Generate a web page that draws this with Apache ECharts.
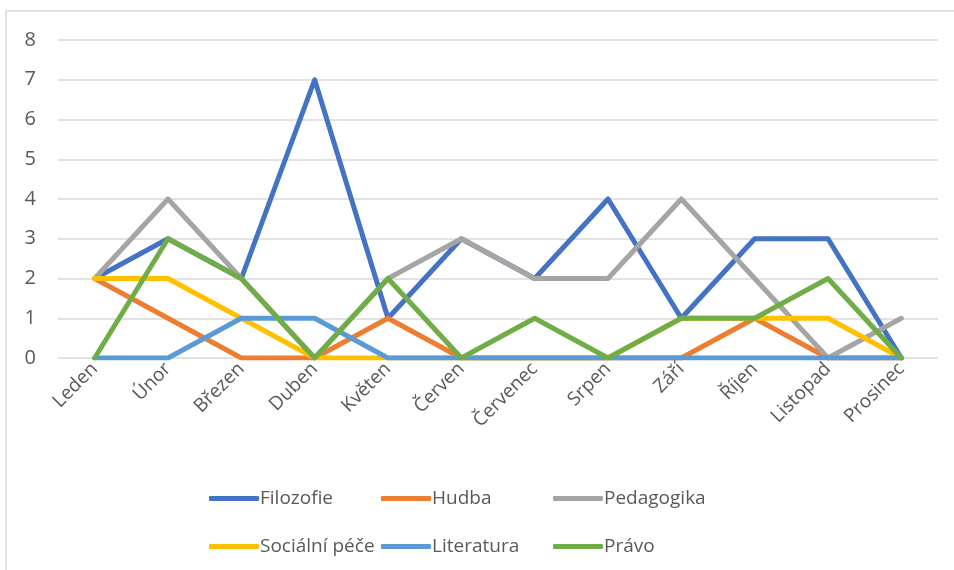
<!DOCTYPE html>
<html>
<head>
<meta charset="utf-8">
<script src="https://cdn.jsdelivr.net/npm/echarts@6/dist/echarts.min.js"></script>
<style>
  html, body { margin: 0; padding: 0; background: #fff; }
  #chart { width: 954px; height: 570px; }
</style>
</head>
<body>
<div id="chart"></div>
<script>
// categories (months)
const months = ['Leden', 'Únor', 'Březen', 'Duben', 'Květen', 'Červen', 'Červenec', 'Srpen', 'Září', 'Říjen', 'Listopad', 'Prosinec']

// series values
const filozofie = [2, 3, 2, 7, 1, 3, 2, 4, 1, 3, 3, 0]
const hudba = [2, 1, 0, 0, 1, 0, 0, 0, 0, 1, 0, 0]
const pedagogika = [2, 4, 2, 0, 2, 3, 2, 2, 4, 2, 0, 1]
const socialniPece = [2, 2, 1, 0, 0, 0, 0, 0, 1, 1, 1, 0]
const literatura = [0, 0, 1, 1, 0, 0, 0, 0, 0, 0, 0, 0]
const pravo = [0, 3, 2, 0, 2, 0, 1, 0, 1, 1, 2, 0]

const seriesNames = ['Filozofie', 'Hudba', 'Pedagogika', 'Sociální péče', 'Literatura', 'Právo']
const seriesData = [filozofie, hudba, pedagogika, socialniPece, literatura, pravo]
const colors = ['#4472C4', '#ED7D31', '#A5A5A5', '#FFC000', '#5B9BD5', '#70AD47']

const font = '"Open Sans", Lato, "DejaVu Sans", sans-serif'
const textColor = '#595959'

// legend positions: 3 columns, 2 rows
const legendCols = [204, 376, 548]
const legendRows = [484, 532]

const chart = echarts.init(document.getElementById('chart'))

chart.setOption({
  animation: false,
  color: colors,
  textStyle: { fontFamily: font },
  graphic: [
    { type: 'line', shape: { x1: 6, y1: 11, x2: 954, y2: 11 }, style: { stroke: '#d9d9d9', lineWidth: 1.5 } },
    { type: 'line', shape: { x1: 6, y1: 11, x2: 6, y2: 570 }, style: { stroke: '#d9d9d9', lineWidth: 1.5 } }
  ],
  legend: seriesNames.map((name, i) => ({
    data: [name],
    left: legendCols[i % 3],
    top: legendRows[Math.floor(i / 3)],
    icon: 'roundRect',
    itemWidth: 50,
    itemHeight: 5,
    itemGap: 0,
    selectedMode: false,
    textStyle: { fontSize: 19, color: textColor, fontFamily: font, padding: [0, 0, 0, -4] }
  })),
  grid: { left: 58, right: 16, top: 40, bottom: 212, containLabel: false },
  xAxis: {
    type: 'category',
    data: months,
    boundaryGap: true,
    axisLine: { show: false },
    axisTick: { show: false },
    axisLabel: {
      rotate: 45,
      fontSize: 19,
      color: textColor,
      fontFamily: font,
      margin: 8,
      interval: 0
    }
  },
  yAxis: {
    type: 'value',
    min: 0,
    max: 8,
    interval: 1,
    axisLine: { show: false },
    axisTick: { show: false },
    axisLabel: { fontSize: 20, color: textColor, fontFamily: font, margin: 22 },
    splitLine: { lineStyle: { color: '#d9d9d9', width: 1.5 } }
  },
  series: seriesNames.map((name, i) => ({
    name: name,
    type: 'line',
    data: seriesData[i],
    symbol: 'none',
    lineStyle: { width: 5, cap: 'round', join: 'round' }
  }))
})
</script>
</body>
</html>
